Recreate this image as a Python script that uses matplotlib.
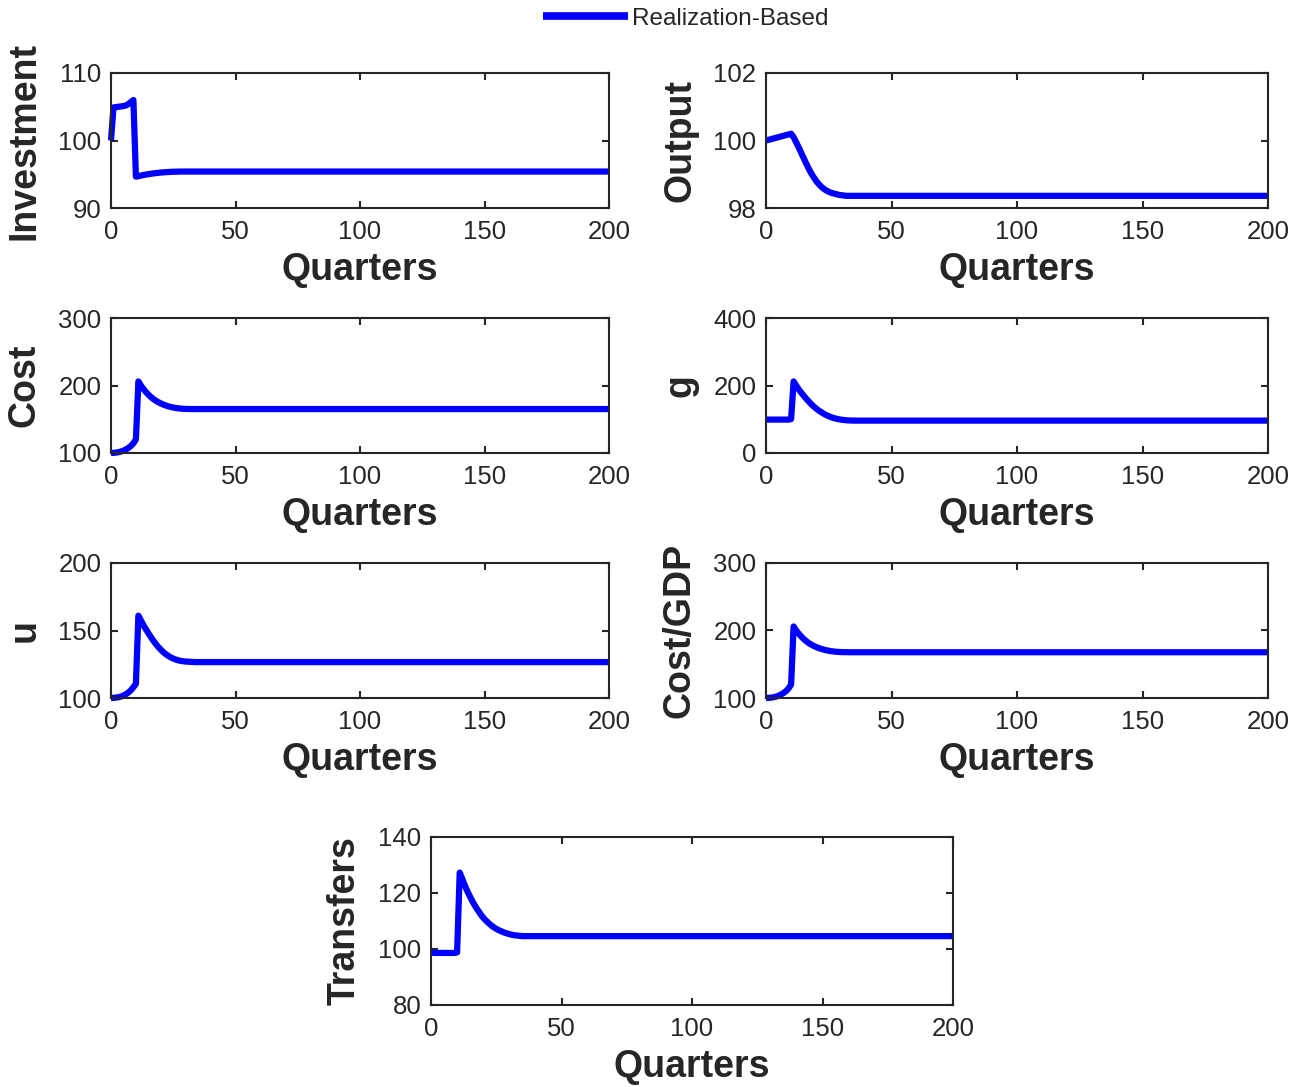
import matplotlib
matplotlib.use('Agg')
import matplotlib.pyplot as plt

plt.rcParams['font.family'] = ['Liberation Sans', 'DejaVu Sans']

# quarters 0..35, then flat out to 200
quarters = list(range(36)) + [200]

investment = [100.0, 104.9, 104.95, 105.0, 105.05, 105.1, 105.2, 105.4, 105.7, 106.0,
              94.65, 94.72, 94.8, 94.88, 94.95, 95.01, 95.07, 95.12, 95.17, 95.21,
              95.25, 95.28, 95.31, 95.33, 95.35, 95.37, 95.38, 95.39, 95.4, 95.4,
              95.4, 95.4, 95.4, 95.4, 95.4, 95.4, 95.4]
output = [100.0, 100.02, 100.04, 100.06, 100.08, 100.1, 100.12, 100.14, 100.16, 100.18,
          100.2, 100.1, 99.95, 99.8, 99.64, 99.48, 99.32, 99.17, 99.03, 98.91,
          98.8, 98.71, 98.63, 98.57, 98.52, 98.48, 98.45, 98.43, 98.41, 98.39,
          98.38, 98.37, 98.36, 98.36, 98.36, 98.36, 98.36]
cost = [100.0, 100.2, 100.6, 101.2, 102.2, 103.5, 105.3, 107.6, 110.5, 114.5,
        120.0, 206.0, 200.0, 195.0, 190.5, 186.5, 183.0, 180.0, 177.5, 175.3,
        173.4, 171.8, 170.4, 169.2, 168.2, 167.4, 166.7, 166.2, 165.8, 165.5,
        165.3, 165.2, 165.1, 165.1, 165.1, 165.1, 165.1]
g = [99, 99, 99, 99, 99, 99, 99, 99, 99, 99,
     100.5, 212, 200, 189, 179, 170, 161, 153, 145, 138,
     131.5, 126, 121, 116.5, 112.5, 109, 106, 103.5, 101.5, 100,
     98.8, 97.8, 97, 96.5, 96.2, 96, 96]
u = [100.0, 100.1, 100.3, 100.6, 101.1, 101.8, 102.8, 104.1, 105.8, 108.0,
     110.5, 161.0, 157.5, 154.0, 151.0, 148.0, 145.2, 142.5, 140.0, 137.8,
     135.8, 134.0, 132.5, 131.2, 130.1, 129.2, 128.5, 127.9, 127.5, 127.2,
     127.0, 126.9, 126.8, 126.7, 126.6, 126.6, 126.6]
cost_gdp = [100.0, 100.2, 100.5, 101.1, 102.1, 103.4, 105.2, 107.5, 110.3, 114.3,
            119.8, 206.0, 200.1, 195.4, 191.2, 187.5, 184.3, 181.5, 179.2, 177.2,
            175.5, 174.0, 172.8, 171.7, 170.7, 170.0, 169.3, 168.9, 168.5, 168.2,
            168.0, 167.9, 167.9, 167.8, 167.8, 167.8, 167.8]
transfers = [99.0, 98.6, 98.6, 98.6, 98.6, 98.6, 98.6, 98.6, 98.6, 98.6,
             98.8, 127.3, 125.0, 122.6, 120.5, 118.6, 116.8, 115.2, 113.8, 112.4,
             111.2, 110.2, 109.3, 108.5, 107.8, 107.2, 106.7, 106.3, 105.9, 105.6,
             105.3, 105.1, 104.9, 104.8, 104.7, 104.6, 104.6]

x_ticks = [0, 50, 100, 150, 200]

panels = [
    ('Investment', investment, [90, 100, 110]),
    ('Output', output, [98, 100, 102]),
    ('Cost', cost, [100, 200, 300]),
    ('g', g, [0, 200, 400]),
    ('u', u, [100, 150, 200]),
    ('Cost/GDP', cost_gdp, [100, 200, 300]),
    ('Transfers', transfers, [80, 100, 120, 140]),
]

W, H = 1298, 1087
# axes boxes in pixels: left, right, top, bottom
boxes = [
    (111, 609, 73, 208), (766, 1268, 73, 208),
    (111, 609, 318, 453), (766, 1268, 318, 453),
    (111, 609, 563, 698), (766, 1268, 563, 698),
    (431, 953, 837, 1005),
]

txt = '#262626'
fig = plt.figure(figsize=(W / 100, H / 100), dpi=100)

line = None
for (name, vals, yt), (l, r, t, b) in zip(panels, boxes):
    ax = fig.add_axes([l / W, 1 - b / H, (r - l) / W, (b - t) / H])
    line, = ax.plot(quarters, vals, color='#0000ff', lw=4.5, clip_on=False,
                    solid_joinstyle='round', solid_capstyle='butt')
    ax.set_xlim(0, 200)
    ax.set_ylim(yt[0], yt[-1])
    ax.set_xticks(x_ticks)
    ax.set_yticks(yt)
    ax.tick_params(direction='in', top=True, right=True, length=5, width=1.5,
                   labelsize=18.5, colors=txt, pad=7)
    ax.tick_params(axis='x', pad=8.5)
    for s in ax.spines.values():
        s.set_linewidth(1.5)
        s.set_color(txt)
    ax.set_xlabel('Quarters', fontsize=27, fontweight='bold', color=txt, va='center')
    ax.xaxis.set_label_coords(0.5, -62 / (b - t))
    ax.set_ylabel(name, fontsize=27, fontweight='bold', color=txt, va='center')
    ax.yaxis.set_label_coords(-86 / (r - l), 0.5)

leg = fig.legend([line], ['Realization-Based'], loc='center left',
                 bbox_to_anchor=(543 / W, 1 - 19 / H), frameon=False, fontsize=17.5,
                 handlelength=3.5, handletextpad=0.15, borderpad=0, borderaxespad=0)
plt.setp(leg.get_lines(), linewidth=5.5, solid_capstyle='butt')
for tx in leg.get_texts():
    tx.set_color(txt)

fig.savefig('out.png', dpi=100)
